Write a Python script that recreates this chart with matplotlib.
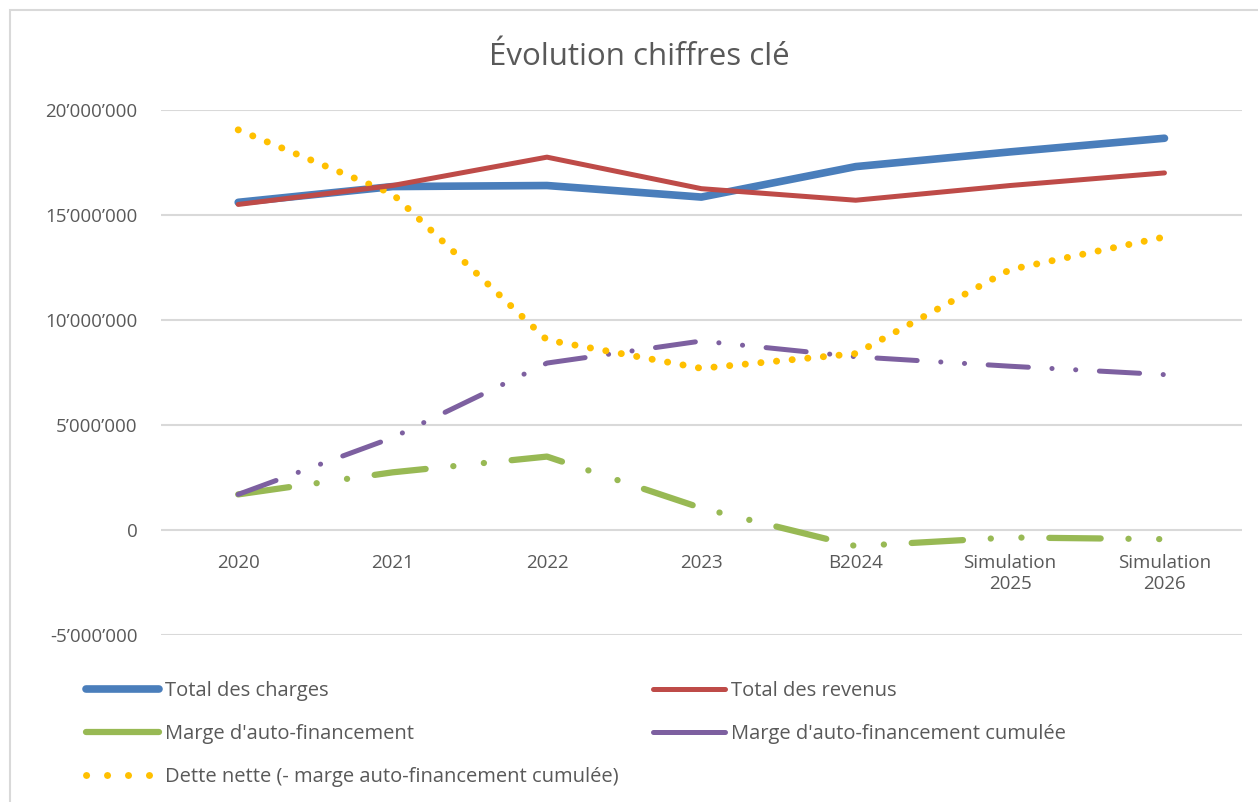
import matplotlib
matplotlib.use("Agg")
import matplotlib.pyplot as plt
from matplotlib.patches import Rectangle
from matplotlib.lines import Line2D
from matplotlib.ticker import FuncFormatter

plt.rcParams['font.family'] = ['Open Sans', 'DejaVu Sans']
plt.rcParams['lines.scale_dashes'] = False

categories = ["2020", "2021", "2022", "2023", "B2024", "Simulation\n2025", "Simulation\n2026"]

total_charges = [15.6e6, 16.35e6, 16.4e6, 15.85e6, 17.3e6, 18.0e6, 18.65e6]
total_revenus = [15.5e6, 16.4e6, 17.75e6, 16.25e6, 15.7e6, 16.4e6, 17.0e6]
marge = [1.7e6, 2.75e6, 3.5e6, 1.05e6, -0.76e6, -0.35e6, -0.43e6]
marge_cumulee = [1.7e6, 4.4e6, 7.95e6, 9.0e6, 8.25e6, 7.8e6, 7.4e6]
dette_nette = [19.05e6, 16.0e6, 9.05e6, 7.7e6, 8.4e6, 12.4e6, 13.95e6]

grey = "#595959"
x = list(range(len(categories)))

fig = plt.figure(figsize=(12.58, 8.02), dpi=100)
ax = fig.add_axes([0.128, 0.208, 0.859, 0.655])

# chart border
fig.patches.append(Rectangle((10 / 1258, -0.1), 1.2, (802 - 10) / 802 + 0.1,
                             transform=fig.transFigure, fill=False,
                             edgecolor="#d9d9d9", linewidth=1.5))

ax.plot(x, total_charges, color="#4a7ebb", lw=5.5, solid_capstyle="round", zorder=3)
ax.plot(x, total_revenus, color="#be4b48", lw=3.6, solid_capstyle="round", zorder=4)
ax.plot(x, marge, color="#98b954", lw=4.5, dash_capstyle="round",
        dashes=(37, 20, 0.1, 22, 0.1, 20), zorder=3)
ax.plot(x, marge_cumulee, color="#7d60a0", lw=3.6, dash_capstyle="round",
        dashes=(29, 17, 0.1, 17, 0.1, 17), zorder=3)
ax.plot(x, dette_nette, color="#ffc000", lw=5, dash_capstyle="round",
        dashes=(0.1, 11.2), zorder=3)

ax.set_xlim(-0.5, len(categories) - 0.5)
ax.set_ylim(-5e6, 20e6)
ax.set_yticks([-5e6, 0, 5e6, 10e6, 15e6, 20e6])
ax.yaxis.set_major_formatter(FuncFormatter(lambda v, p: f"{int(v):,}".replace(",", "\u2019")))
ax.set_xticks(x)
ax.set_xticklabels(categories, linespacing=1.55)
ax.grid(axis="y", color="#d9d9d9", lw=1.5)
ax.set_axisbelow(True)
for s in ["top", "right", "left"]:
    ax.spines[s].set_visible(False)
ax.spines["bottom"].set_position(("data", 0))
ax.spines["bottom"].set_visible(False)
ax.tick_params(axis="both", length=0, labelsize=13.5, labelcolor=grey)
ax.tick_params(axis="y", pad=17)
ax.tick_params(axis="x", pad=17)

fig.text(0.508, 0.929, "Évolution chiffres clé", ha="center", va="center", fontsize=22.5, color=grey)

# legend proxies (Excel shows dashes as solid strokes in the legend)
h_charges = Line2D([], [], color="#4a7ebb", lw=5.5, solid_capstyle="round")
h_revenus = Line2D([], [], color="#be4b48", lw=3.6, solid_capstyle="round")
h_marge = Line2D([], [], color="#98b954", lw=4.5, solid_capstyle="round")
h_cum = Line2D([], [], color="#7d60a0", lw=3.6, solid_capstyle="round")
h_dette = Line2D([], [], color="#ffc000", lw=5, dash_capstyle="round", dashes=(0.1, 15))

handles = [h_charges, h_marge, h_dette, h_revenus, h_cum]
labels = ["Total des charges", "Marge d'auto-financement",
          "Dette nette (- marge auto-financement cumulée)",
          "Total des revenus", "Marge d'auto-financement cumulée"]
fig.legend(handles, labels, ncol=2, loc="upper left",
           bbox_to_anchor=(68 / 1258, 1 - 663 / 802), frameon=False, fontsize=14.5,
           labelcolor=grey, handlelength=3.6, handletextpad=0.3, columnspacing=1.7,
           labelspacing=1.15)

fig.savefig("out.png", dpi=100, facecolor="white")
